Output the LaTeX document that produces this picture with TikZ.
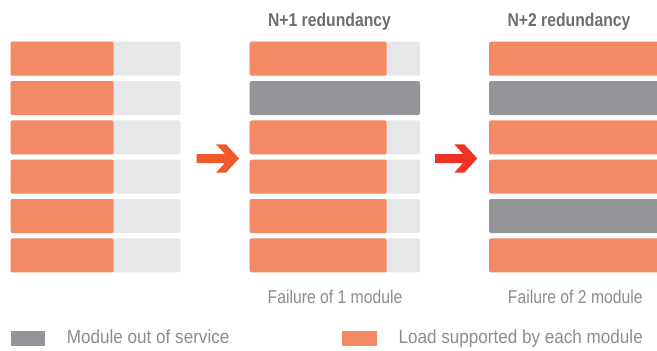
\documentclass[tikz,border=0pt]{standalone}
\usepackage{fontspec}
\setmainfont{Liberation Sans}
\newfontfamily\condfont[FakeStretch=0.85]{Liberation Sans}
\newfontfamily\legfont[FakeStretch=0.9]{Liberation Sans}
\definecolor{orng}{HTML}{F48A65}
\definecolor{lgray}{HTML}{E6E7E8}
\definecolor{dgray}{HTML}{939598}
\definecolor{titlec}{HTML}{6D6E71}
\definecolor{capc}{HTML}{8A8C8E}
\definecolor{arrA}{HTML}{EE5A2B}
\definecolor{arrB}{HTML}{EE3224}
\tikzset{
  bar/.style={fill=lgray, rounded corners=2pt, minimum height=34pt, inner sep=0pt, outer sep=0pt, anchor=north west},
  load/.style={path picture={\fill[orng] (path picture bounding box.north west) rectangle ([xshift=#1]path picture bounding box.south west);}},
  outbar/.style={fill=dgray, rounded corners=2pt, minimum height=34pt, inner sep=0pt, outer sep=0pt, anchor=north west},
  fullbar/.style={fill=orng, rounded corners=2pt, minimum height=34pt, inner sep=0pt, outer sep=0pt, anchor=north west},
  titletext/.style={text=titlec, inner sep=0pt, anchor=base, font=\condfont\bfseries\fontsize{18.5}{20}\selectfont},
  captext/.style={text=capc, inner sep=0pt, anchor=base, font=\condfont\fontsize{18.5}{20}\selectfont},
  legtext/.style={text=capc, inner sep=0pt, anchor=base west, font=\legfont\fontsize{19}{21}\selectfont},
  legbox/.style={minimum width=34.3pt, minimum height=15pt, inner sep=0pt, outer sep=0pt, anchor=north west},
  bigarrow/.pic={\fill[pic actions] (0,-4.5) -- (28.2,-4.5) -- (19.3,-14.2) -- (29.3,-14.2) -- (42.3,0) -- (29.3,14.2) -- (19.3,14.2) -- (28.2,4.5) -- (0,4.5) -- cycle;}
}
\begin{document}
\begin{tikzpicture}[x=1pt,y=-1pt]
\clip (0,0) rectangle (657,351);
\useasboundingbox (0,0) rectangle (657,351);
% left column
\foreach \i in {0,...,5}{
  \node[bar, minimum width=170pt, load=103.2pt] (L\i) at (10.5,{41.7+39.33*\i}) {};
}
% middle column
\foreach \i in {0,2,3,4,5}{
  \node[bar, minimum width=170.3pt, load=137pt] (M\i) at (249.7,{41.7+39.33*\i}) {};
}
\node[outbar, minimum width=170.3pt] (M1) at (249.7,{41.7+39.33}) {};
% right column
\foreach \i in {0,2,3,5}{
  \node[fullbar, minimum width=180pt] (R\i) at (489,{41.7+39.33*\i}) {};
}
\foreach \i in {1,4}{
  \node[outbar, minimum width=180pt] (R\i) at (489,{41.7+39.33*\i}) {};
}
% titles
\node[titletext] (t1) at (329.5,26) {N+1 redundancy};
\node[titletext] (t2) at (569,26) {N+2 redundancy};
% captions
\node[captext] (c1) at (335,303.3) {Failure of 1 module};
\node[captext] (c2) at (575.3,303.3) {Failure of 2 module};
% arrows
\pic[fill=arrA] (A1) at (196.7,158.5) {bigarrow};
\pic[fill=arrB] (A2) at (435,158.5) {bigarrow};
% legend
\node[legbox, fill=dgray] (lg1) at (10.7,330.7) {};
\node[legtext] (lt1) at (66.7,343.7) {Module out of service};
\node[legbox, fill=orng] (lg2) at (342.3,330.7) {};
\node[legtext] (lt2) at (398.3,343.7) {Load supported by each module};
\end{tikzpicture}
\end{document}
